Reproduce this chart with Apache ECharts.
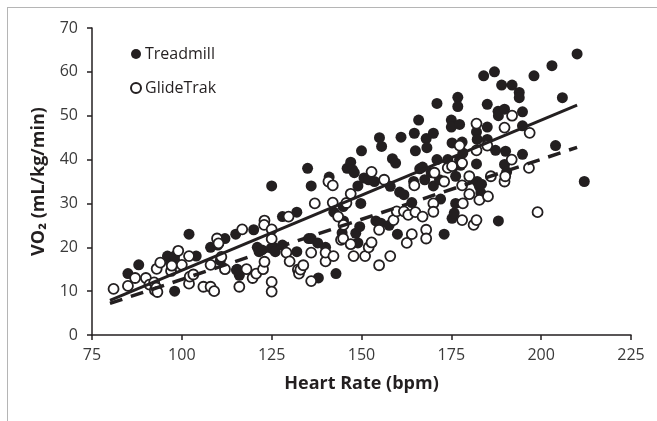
<!DOCTYPE html>
<html>
<head>
<meta charset="utf-8">
<script src="https://cdn.jsdelivr.net/npm/echarts@6/dist/echarts.min.js"></script>
<style>
html,body{margin:0;padding:0;background:#fff;}
#chart{width:657px;height:421px;}
</style>
</head>
<body>
<div id="chart"></div>
<script>
// Data: [heart rate (bpm), VO2 (mL/kg/min)]
const treadmill = [
[85,14],[88,16],[96,18],[97,16.5],[98,17],[98,18],[98,10],[102,23],[104,18],[108,20],[110,20.5],[110,21.6],[112,22],[110.7,17],
[115,23],[115.4,15],[116,13.6],[115.2,14.8],[120,24],[121,20],[121.5,19],[122.3,19.4],[125,34],[124.9,19.8],[125.6,20],[126,19],
[128,20.5],[128,27],[132,28],[132,19],[135,38],[136,34],[135.3,22],[136,22],[137.8,21],[138,13],[140,20],[141,36],[142.3,28],
[142.9,14],[144.9,29.3],[145,26],[144.6,23.3],[146,38],[147,39.4],[147.5,37.7],[148,37],[148.4,23.2],[149,21],[149,34],[150,42],
[149.8,30],[149.5,24.7],[150.7,35.8],[152,35.4],[153.6,35],[154,26],[155,45],[155.6,43],[155.4,25.5],[157.7,25],[158,33.9],
[158.6,40.2],[159.5,39.2],[160,23],[160.6,32.6],[161,45.1],[161.8,32],[164,30.2],[164.5,35],[164.7,46],[165,42],[165.9,49],
[166.2,37.9],[167,38.3],[168,44.8],[168.2,42.7],[167.6,35.4],[169.4,37],[170,46],[170,34],[171,40],[171,52.8],[171.7,35.4],
[172,31],[173,23],[174,40],[175,49],[175,47.4],[175.2,43.8],[175.2,26.6],[175.8,27.8],[175.8,38.5],[176.2,36.2],[176.2,30],
[176.8,54.2],[176.8,52.1],[177.3,48],[177.3,40],[177.6,38.7],[178,44],[178.2,41.5],[182,39],[182,46.3],[182.2,44.6],[182.2,35],
[182.8,33.9],[183.2,32.4],[183.4,34.4],[184,59.1],[185,52.6],[185,47.4],[185,44.6],[187,60],[187.3,42.1],[188.1,26],[188,51],
[188.1,50],[189,57],[189.8,51.5],[190.1,41.9],[189.8,38.9],[190.4,37.2],[191.9,57],[193.9,55.3],[193.9,54.1],[194.8,50.9],
[194.8,47.7],[194.8,41.2],[198,59.1],[203,61.4],[204,43.2],[205.9,54.1],[210,64.1],[212,35]
];
const glideTrak = [
[81,10.5],[85,11.2],[87,13],[90,13],[91,11.5],[92.3,12],[92.5,10.2],[92.9,10.8],[93.2,9.8],[93,15.1],[94,16.5],[97,14.6],
[97.2,15.8],[99,19.2],[100,16],[102,18],[102,11.7],[102.2,13.3],[103.2,13.8],[106,11],[108,11],[108,16],[109,10],[109.8,22],
[110.2,20.9],[111,17.8],[112,15],[116.8,24.1],[116,11],[118,15],[119.7,13],[120.7,14],[122.6,15],[123,16.7],[123,26.1],
[122.9,25.1],[125,24.1],[125,21.9],[125,12.1],[125,9.9],[129.7,27],[129.1,18.8],[130,16.8],[132.3,14.9],[132.6,14],[133,14.9],
[133.8,15.9],[136,18.8],[136,12.3],[137,30],[140,16.8],[140,18.8],[140.8,35],[142,34.1],[142,30.2],[142.2,18],[143.5,27],
[144.3,21.7],[144.9,22],[145,25.1],[145.8,30.1],[147,32.2],[147,20.7],[147.8,18],[151,18],[152,20],[152.8,21.1],[152.8,37.2],
[154.9,24],[154.9,15.9],[156.3,35.4],[158,18],[158.9,26.2],[159.8,28.2],[161.8,28.2],[163,27.4],[162.6,21],[164,23],[164.7,34.1],
[165,28],[167,27],[168,24],[168,22],[170,30],[170,28.1],[170.3,37],[173,35],[174,38.1],[175.2,38.5],[177.3,43.2],[178,39.2],
[178,34.1],[178,26.2],[178.2,30],[180,36.2],[180,32.1],[181.2,25.1],[182,26.2],[182,42.1],[182,48.2],[182.8,30.8],[185,43.2],
[185.2,31.6],[186,36.2],[189.8,47.3],[189.8,35],[190,36.2],[191.8,40],[191.9,50],[196.6,38.1],[196.8,46.1],[199,28]
];
// Fitted trend lines (end points)
const treadmillTrend = [[80,7.9],[210,52.4]];
const glideTrakTrend = [[80,7.2],[210,42.8]];
const xTicks = {min:75, max:225, interval:25};
const yTicks = {min:0, max:70, interval:10};

const FONT = '"Open Sans", "Noto Sans", sans-serif';
const chart = echarts.init(document.getElementById('chart'), null, {renderer:'canvas'});
chart.setOption({
  animation:false,
  backgroundColor:'#fff',
  grid:{left:92, right:26, top:28, bottom:86, containLabel:false},
  legend:{
    orient:'vertical', left:125, top:41, itemGap:18, itemWidth:10, itemHeight:10,
    textStyle:{fontFamily:FONT, fontSize:16, color:'#231f20', padding:[0,0,0,-1]},
    data:['Treadmill','GlideTrak']
  },
  xAxis:{
    type:'value', min:xTicks.min, max:xTicks.max, interval:xTicks.interval,
    name:'Heart Rate (bpm)', nameLocation:'middle', nameGap:40,
    nameTextStyle:{fontFamily:FONT, fontSize:18, fontWeight:'bold', color:'#231f20'},
    axisLine:{show:true, onZero:false, lineStyle:{color:'#231f20', width:1.5}},
    axisTick:{show:true, inside:false, length:5, lineStyle:{color:'#231f20', width:1.5}},
    axisLabel:{fontFamily:FONT, fontSize:16, color:'#3a3a3a', margin:12},
    splitLine:{show:false}
  },
  yAxis:{
    type:'value', min:yTicks.min, max:yTicks.max, interval:yTicks.interval,
    name:'VO₂ (mL/kg/min)', nameLocation:'middle', nameGap:44, nameRotate:90,
    nameTextStyle:{fontFamily:FONT, fontSize:18, fontWeight:'bold', color:'#231f20'},
    axisLine:{show:true, onZero:false, lineStyle:{color:'#231f20', width:1.5}},
    axisTick:{show:true, inside:false, length:5, lineStyle:{color:'#231f20', width:1.5}},
    axisLabel:{fontFamily:FONT, fontSize:16, color:'#3a3a3a', margin:14},
    splitLine:{show:false}
  },
  series:[
    {name:'Treadmill', type:'scatter', data:treadmill, symbol:'circle', symbolSize:11,
     itemStyle:{color:'#231f20', opacity:1, borderColor:'#231f20', borderWidth:0}, z:2,
     emphasis:{disabled:true}},
    {name:'GlideTrak', type:'scatter', data:glideTrak, symbol:'circle', symbolSize:10,
     itemStyle:{color:'#ffffff', opacity:1, borderColor:'#231f20', borderWidth:1.8}, z:3,
     emphasis:{disabled:true}},
    {name:'Treadmill fit', type:'line', data:treadmillTrend, symbol:'none', silent:true,
     lineStyle:{color:'#231f20', width:3, type:'solid'}, z:4},
    {name:'GlideTrak fit', type:'line', data:glideTrakTrend, symbol:'none', silent:true,
     lineStyle:{color:'#231f20', width:3.5, type:[13,9]}, z:4}
  ],
  graphic:[
    {type:'line', shape:{x1:7, y1:7.5, x2:657, y2:7.5}, style:{stroke:'#b5b5b5', lineWidth:1}},
    {type:'line', shape:{x1:7.5, y1:7, x2:7.5, y2:421}, style:{stroke:'#b5b5b5', lineWidth:1}}
  ]
});
</script>
</body>
</html>
